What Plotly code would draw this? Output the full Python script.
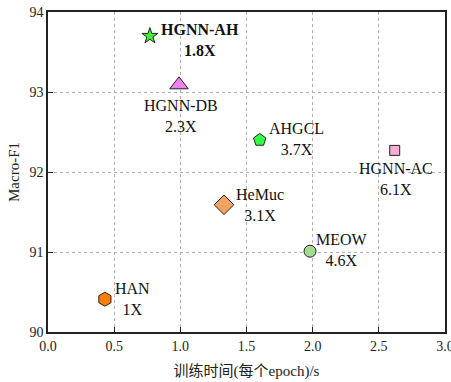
import plotly.graph_objects as go

names = ["HGNN-AH", "HGNN-DB", "AHGCL", "HGNN-AC", "HeMuc", "MEOW", "HAN"]
speedups = ["1.8X", "2.3X", "3.7X", "6.1X", "3.1X", "4.6X", "1X"]
train_time = [0.77, 0.99, 1.60, 2.62, 1.33, 1.98, 0.43]
macro_f1 = [93.70, 93.09, 92.40, 92.27, 91.59, 91.01, 90.41]
x_ticks = [0.0, 0.5, 1.0, 1.5, 2.0, 2.5, 3.0]
y_ticks = [90, 91, 92, 93, 94]

SERIF = "Liberation Serif, Times New Roman, serif"

symbols = ["star", "triangle-up", "pentagon", "square", "diamond", "circle", "hexagon"]
colors = ["#44ee33", "#ee82ee", "#33ff44", "#ffaad4", "#f4a460", "#a2d993", "#ff8000"]
sizes = [12, 16, 13, 10, 15, 12, 14]
# label offsets in pixels (dx, dy) relative to point
offsets = [(50, -4), (2, -31), (37, 1), (1, -29), (36, 0), (32, 1), (28, 0)]

fig = go.Figure()
for i in range(len(names)):
    fig.add_trace(go.Scatter(
        x=[train_time[i]], y=[macro_f1[i]], mode="markers",
        marker=dict(symbol=symbols[i], color=colors[i], size=sizes[i],
                    line=dict(color="#222222", width=1)),
        showlegend=False, hoverinfo="skip"))
    txt = names[i] + "<br>" + speedups[i]
    if i == 0:
        txt = "<b>" + names[i] + "<br>" + speedups[i] + "</b>"
    fig.add_annotation(x=train_time[i], y=macro_f1[i], text=txt, showarrow=False,
                       xshift=offsets[i][0], yshift=offsets[i][1],
                       font=dict(family=SERIF, size=16, color="#111111"),
                       align="center")

axis_common = dict(showline=True, linecolor="#222222", linewidth=1.5, mirror=True,
                   ticks="inside", ticklen=5, tickcolor="#222222",
                   showgrid=True, gridcolor="#b0b0b0", griddash="dot", gridwidth=1,
                   zeroline=False, automargin=False, ticklabeloverflow="allow",
                   tickfont=dict(family=SERIF, size=14, color="#222222"))

fig.update_xaxes(range=[0, 3.0], tickvals=x_ticks, ticktext=[f"{v:.1f}" for v in x_ticks],
                 title=dict(text="训练时间(每个epoch)/s", standoff=13,
                            font=dict(family="Liberation Serif, Noto Sans CJK SC", size=15, color="#222222")),
                 **axis_common)
fig.update_yaxes(range=[90, 94], tickvals=y_ticks,
                 title=dict(text="Macro-F1", standoff=6,
                            font=dict(family=SERIF, size=15, color="#222222")),
                 **axis_common)

fig.update_layout(width=451, height=382, margin=dict(l=48, r=6, t=12, b=50),
                  plot_bgcolor="white", paper_bgcolor="white")

fig.write_html("out.html", config={"displayModeBar": False},
               post_script="document.body.style.margin='0';document.body.style.overflow='hidden';")
